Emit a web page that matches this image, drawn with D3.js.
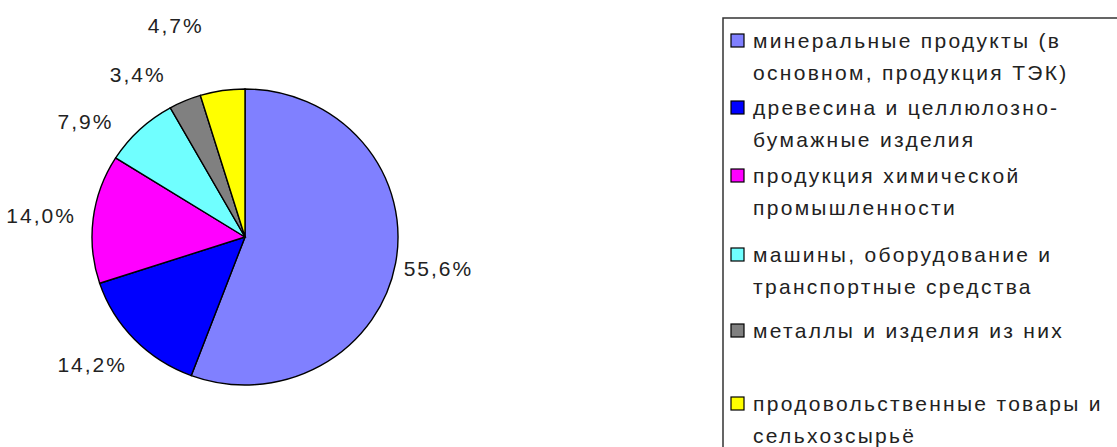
<!DOCTYPE html>
<html>
<head>
<meta charset="utf-8">
<script src="https://cdn.jsdelivr.net/npm/d3@7"></script>
<style>
  body { margin: 0; background: #fff; }
  svg { display: block; font-family: "Liberation Sans", Arial, sans-serif; }
</style>
</head>
<body>
<svg id="chart" width="1117" height="447"></svg>
<script>
// data
const categories = [
  ["минеральные продукты (в", "основном, продукция ТЭК)"],
  ["древесина и целлюлозно-", "бумажные изделия"],
  ["продукция химической", "промышленности"],
  ["машины, оборудование и", "транспортные средства"],
  ["металлы и изделия из них"],
  ["продовольственные товары и", "сельхозсырьё"]
];
const shares = [55.6, 14.2, 14.0, 7.9, 3.4, 4.7];
const labels = ["55,6%", "14,2%", "14,0%", "7,9%", "3,4%", "4,7%"];
const colors = ["#8080ff", "#0000ff", "#ff00ff", "#70ffff", "#808080", "#ffff00"];

// layout
const cx = 245, cy = 237, ry = 148, rx = 153;
const labelR = 200;
// excel pushes the small labels apart: [degrees, px]
const labelNudge = [[-1, -4], [4, -1], [-1, 5], [-10.6, -3], [-10.3, -5], [-9.6, 23]];
const legendRowY = [48, 115, 183, 262, 338, 411];
const lineGap = 32;

const svg = d3.select("#chart");

const pie = d3.pie().sort(null).value(d => d);
const arcs = pie(shares);
const arc = d3.arc().innerRadius(0).outerRadius(ry);

const g = svg.append("g")
  .attr("transform", `translate(${cx},${cy}) scale(${rx / ry},1)`);

g.selectAll("path")
  .data(arcs)
  .enter()
  .append("path")
  .attr("d", arc)
  .attr("fill", (d, i) => colors[i])
  .attr("stroke", "#000")
  .attr("stroke-width", 1.4)
  .attr("vector-effect", "non-scaling-stroke");

// labels outside the pie
svg.selectAll("text.lbl")
  .data(arcs)
  .enter()
  .append("text")
  .attr("class", "lbl")
  .each(function (d, i) {
    const a = (d.startAngle + d.endAngle) / 2 + labelNudge[i][0] * Math.PI / 180;
    const r = labelR + labelNudge[i][1];
    d3.select(this)
      .attr("x", cx + Math.sin(a) * r)
      .attr("y", cy - Math.cos(a) * r);
  })
  .attr("text-anchor", "middle")
  .attr("dominant-baseline", "central")
  .attr("font-size", 21)
  .attr("letter-spacing", 2)
  .attr("fill", "#222")
  .text((d, i) => labels[i]);

// legend
svg.append("rect")
  .attr("x", 723).attr("y", 18)
  .attr("width", 500).attr("height", 500)
  .attr("fill", "#fff")
  .attr("stroke", "#333")
  .attr("stroke-width", 1.5);

const item = svg.selectAll("g.item")
  .data(categories)
  .enter()
  .append("g")
  .attr("class", "item")
  .attr("transform", (d, i) => `translate(0,${legendRowY[i]})`);

item.append("rect")
  .attr("x", 731).attr("y", -14)
  .attr("width", 13).attr("height", 13)
  .attr("fill", (d, i) => colors[i])
  .attr("stroke", "#000")
  .attr("stroke-width", 1.2);

item.selectAll("text")
  .data(d => d)
  .enter()
  .append("text")
  .attr("x", 753)
  .attr("y", (d, j) => j * lineGap)
  .attr("font-size", 21)
  .attr("letter-spacing", 2.3)
  .attr("fill", "#222")
  .text(d => d);
</script>
</body>
</html>
